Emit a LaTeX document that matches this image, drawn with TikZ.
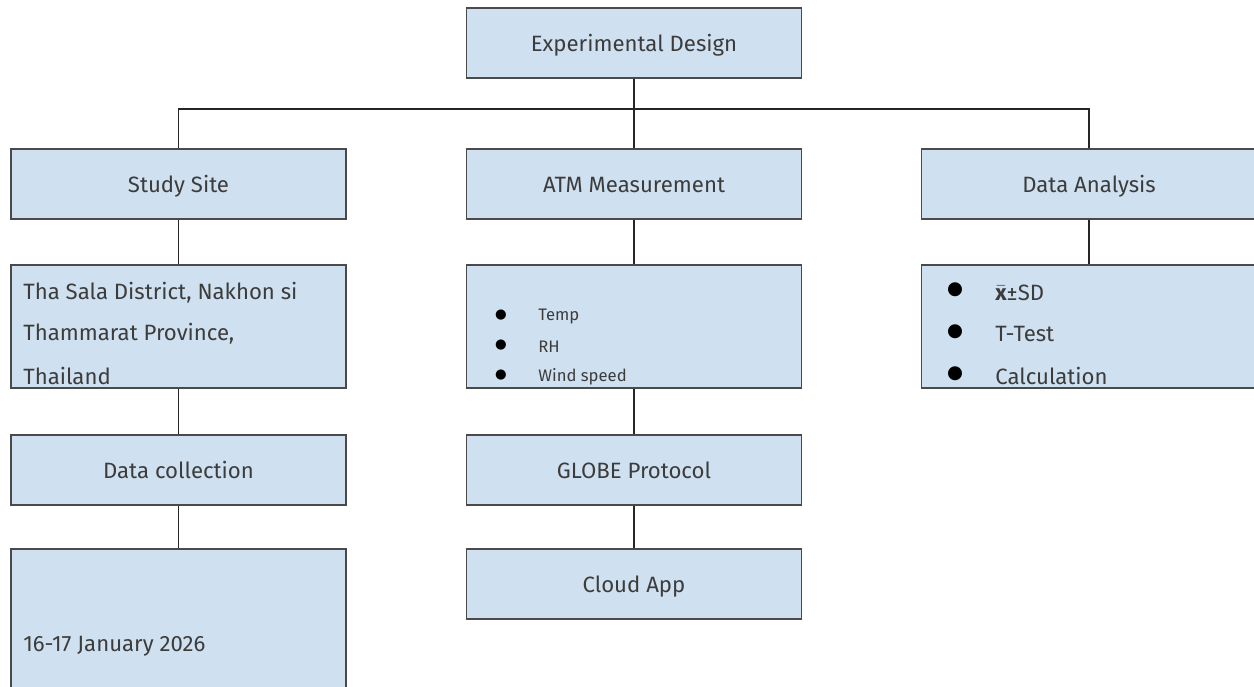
\documentclass[tikz,border=0pt]{standalone}
\usepackage{fontspec}
\setmainfont{Fira Sans}
\newfontfamily\symfont{DejaVu Sans}
\definecolor{boxfill}{HTML}{CFE0F0}
\definecolor{boxline}{HTML}{4A4A4A}
\definecolor{txt}{HTML}{3C3C3C}
\newcommand{\mainsize}{\fontsize{13.3}{16}\selectfont}
\begin{document}
\begin{tikzpicture}[x=0.6pt,y=-0.6pt,
  box/.style={draw=boxline,line width=0.9pt,fill=boxfill,rectangle,inner sep=0pt,
    minimum width=201pt,text=txt,text height=1.25em,text depth=0.2em,
    font=\mainsize},
  small/.style={minimum height=42pt},
  mid/.style={minimum height=73.8pt},
  link/.style={line width=1.1pt,draw=black!85},
  itm/.style={anchor=west,inner sep=0pt,text=txt},
  bul/.style={anchor=center,inner sep=0pt},
]
\useasboundingbox (0,0) rectangle (1254,687);
% top level
\node[box,small] (top) at (634,43) {Experimental Design};
% second level
\node[box,small] (ss) at (178.5,184) {Study Site};
\node[box,small] (atm) at (634,184) {ATM Measurement};
\node[box,small] (da) at (1089,184) {Data Analysis};
% third level
\node[box,mid] (loc) at (178.5,326.5) {};
\node[box,mid] (vars) at (634,326.5) {};
\node[box,mid] (stat) at (1089,326.5) {};
% fourth level
\node[box,small] (dc) at (178.5,470) {Data collection};
\node[box,small] (gp) at (634,470) {GLOBE Protocol};
% fifth level
\node[box,minimum height=84pt] (date) at (178.5,619) {};
\node[box,small] (ca) at (634,584) {Cloud App};

% location text
\begin{scope}[every node/.style={itm,font=\mainsize}]
\node (l1) at (23,293) {Tha Sala District, Nakhon si};
\node (l2) at (23,334) {Thammarat Province,};
\node (l3) at (23,376) {Thailand};
\node (d1) at (23,646) {16-17 January 2026};
\end{scope}

% measured variables
\begin{scope}[every node/.style={itm,font=\fontsize{10}{12}\selectfont}]
\node (v1) at (538,317) {Temp};
\node (v2) at (538,347) {RH};
\node (v3) at (538,377) {Wind speed};
\end{scope}
\node[bul,font=\symfont\fontsize{8}{10}\selectfont] (b1) at (501,315) {●};
\node[bul,font=\symfont\fontsize{8}{10}\selectfont] (b2) at (501,345) {●};
\node[bul,font=\symfont\fontsize{8}{10}\selectfont] (b3) at (501,375) {●};

% analysis methods
\begin{scope}[every node/.style={itm,font=\mainsize}]
\node (s1) at (995,293) {$\bar{\mathbf{x}}$±SD};
\node (s2) at (995,334) {T-Test};
\node (s3) at (995,376) {Calculation};
\end{scope}
\node[bul,font=\symfont\fontsize{11}{13}\selectfont] (c1) at (955,290) {●};
\node[bul,font=\symfont\fontsize{11}{13}\selectfont] (c2) at (955,332) {●};
\node[bul,font=\symfont\fontsize{11}{13}\selectfont] (c3) at (955,374) {●};

% connectors
\draw[link] (top.south) -- (atm.north);
\draw[link] (ss.north) -- ++(0,-39) coordinate (bl) -| (da.north);
\draw[link] (ss.south) -- (loc.north);
\draw[link] (loc.south) -- (dc.north);
\draw[link] (dc.south) -- (date.north);
\draw[link] (atm.south) -- (vars.north);
\draw[link] (vars.south) -- (gp.north);
\draw[link] (gp.south) -- (ca.north);
\draw[link] (da.south) -- (stat.north);
\end{tikzpicture}
\end{document}
